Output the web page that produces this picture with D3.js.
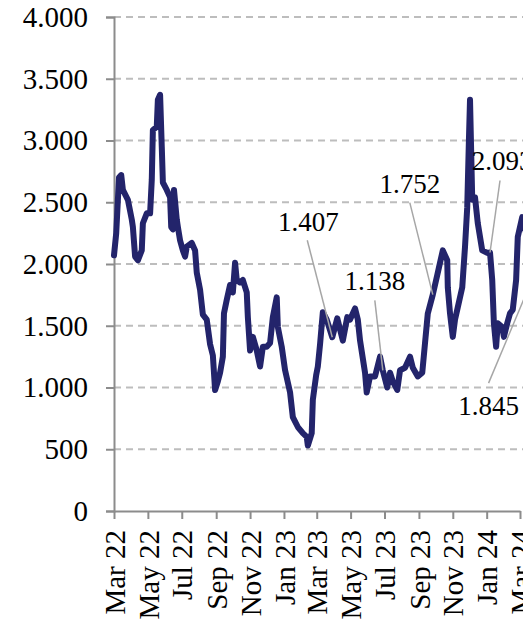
<!DOCTYPE html>
<html>
<head>
<meta charset="utf-8">
<script src="https://cdn.jsdelivr.net/npm/d3@7/dist/d3.min.js"></script>
<style>
  body { margin: 0; background: #fff; }
  svg { display: block; }
</style>
</head>
<body>
<script>
const dates = [
  '2022-03-01', '2022-03-05', '2022-03-10', '2022-03-14', '2022-03-17', '2022-03-26', '2022-04-02', '2022-04-04',
  '2022-04-08', '2022-04-13', '2022-04-20', '2022-04-22', '2022-04-29', '2022-05-05', '2022-05-08', '2022-05-10',
  '2022-05-17', '2022-05-19', '2022-05-23', '2022-05-26', '2022-05-28', '2022-06-04', '2022-06-10', '2022-06-12',
  '2022-06-15', '2022-06-17', '2022-06-22', '2022-06-24', '2022-06-28', '2022-07-03', '2022-07-07', '2022-07-10',
  '2022-07-19', '2022-07-25', '2022-07-28', '2022-08-03', '2022-08-08', '2022-08-15', '2022-08-21', '2022-08-26',
  '2022-08-30', '2022-09-04', '2022-09-08', '2022-09-13', '2022-09-15', '2022-09-20', '2022-09-26', '2022-10-01',
  '2022-10-05', '2022-10-08', '2022-10-14', '2022-10-19', '2022-10-26', '2022-10-28', '2022-11-01', '2022-11-06',
  '2022-11-13', '2022-11-19', '2022-11-24', '2022-12-01', '2022-12-07', '2022-12-12', '2022-12-19', '2022-12-21',
  '2022-12-28', '2023-01-03', '2023-01-12', '2023-01-17', '2023-01-26', '2023-02-04', '2023-02-11', '2023-02-13',
  '2023-02-20', '2023-02-22', '2023-02-28', '2023-03-03', '2023-03-07', '2023-03-12', '2023-03-19', '2023-03-29',
  '2023-04-07', '2023-04-12', '2023-04-17', '2023-04-25', '2023-04-30', '2023-05-09', '2023-05-14', '2023-05-18',
  '2023-05-27', '2023-05-30', '2023-06-05', '2023-06-14', '2023-06-23', '2023-06-28', '2023-07-06', '2023-07-11',
  '2023-07-16', '2023-07-24', '2023-07-29', '2023-08-07', '2023-08-16', '2023-08-21', '2023-08-30', '2023-09-07',
  '2023-09-12', '2023-09-17', '2023-09-26', '2023-10-04', '2023-10-09', '2023-10-14', '2023-10-22', '2023-10-23',
  '2023-10-27', '2023-11-01', '2023-11-05', '2023-11-10', '2023-11-18', '2023-11-23', '2023-11-27', '2023-11-30',
  '2023-12-02', '2023-12-06', '2023-12-11', '2023-12-16', '2023-12-24', '2024-01-02', '2024-01-07', '2024-01-11',
  '2024-01-14', '2024-01-18', '2024-01-21', '2024-01-29', '2024-02-01', '2024-02-07', '2024-02-12', '2024-02-17',
  '2024-02-23', '2024-02-26', '2024-03-05', '2024-03-12', '2024-03-20', '2024-03-26'
]
const values = [
  2070, 2250, 2700, 2720, 2600, 2520, 2360, 2300,
  2060, 2030, 2110, 2330, 2410, 2410, 2680, 3085,
  3110, 3330, 3370, 2950, 2660, 2600, 2540, 2300,
  2280, 2600, 2360, 2300, 2190, 2110, 2060, 2140,
  2170, 2110, 1930, 1790, 1590, 1550, 1350, 1260,
  980, 1050, 1120, 1250, 1600, 1710, 1830, 1770,
  2010, 1870, 1850, 1870, 1770, 1570, 1300, 1410,
  1300, 1170, 1330, 1330, 1360, 1570, 1730, 1490,
  1330, 1140, 960, 760, 680, 630, 600, 530,
  630, 900, 1100, 1170, 1350, 1610, 1550, 1407,
  1560, 1470, 1380, 1570, 1550, 1640, 1550, 1380,
  1120, 960, 1090, 1090, 1250, 1138, 1000, 1120,
  1050, 980, 1140, 1160, 1250, 1160, 1090, 1120,
  1360, 1600, 1752, 1910, 2010, 2110, 2030, 1810,
  1600, 1410, 1550, 1650, 1810, 2140, 2460, 3000,
  3330, 2520, 2540, 2330, 2110, 2090, 2093, 1870,
  1520, 1330, 1520, 1490, 1410, 1520, 1600, 1630,
  1870, 2220, 2380, 2250, 1845, 1900
]

const yTicks = [0, 500, 1000, 1500, 2000, 2500, 3000, 3500, 4000]

const annoDates = ['2023-03-29', '2023-06-28', '2023-09-26', '2024-01-07', '2024-03-20']
const annoValues = [1407, 1138, 1752, 2093, 1845]

const width = 523
const height = 619
const mLeft = 114
const mTop = 17
const mBottom = 511

const parse = d3.timeParse('%Y-%m-%d')
const data = dates.map((d, i) => ({ date: parse(d), value: values[i] }))

const locale = d3.formatLocale({ decimal: ',', thousands: '.', grouping: [3], currency: ['', ''] })
const fmt = locale.format(',')
const monthNames = ['Jan', 'Feb', 'Mar', 'Apr', 'May', 'Jun', 'Jul', 'Aug', 'Sep', 'Oct', 'Nov', 'Dec']

const x = d3.scaleTime()
  .domain([parse('2022-03-01'), parse('2024-03-01')])
  .range([mLeft, 520])

const y = d3.scaleLinear()
  .domain([0, 4000])
  .range([mBottom, mTop])

const svg = d3.select('body').append('svg')
  .attr('width', width)
  .attr('height', height)
  .style('font-family', '"Liberation Serif", "Times New Roman", serif')

// grid
svg.append('g')
  .selectAll('line')
  .data(yTicks.filter(d => d > 0))
  .enter()
  .append('line')
  .attr('x1', mLeft)
  .attr('x2', width)
  .attr('y1', d => y(d))
  .attr('y2', d => y(d))
  .attr('stroke', '#bdbdbd')
  .attr('stroke-width', 2)
  .attr('stroke-dasharray', '7,5')

// y axis
const yAxis = svg.append('g')
  .attr('transform', `translate(${mLeft},0)`)
  .call(d3.axisLeft(y).tickValues(yTicks).tickFormat(fmt).tickSize(8).tickPadding(18))
yAxis.select('.domain').attr('stroke', '#8c8c8c').attr('stroke-width', 2)
yAxis.selectAll('.tick line').attr('stroke', '#8c8c8c').attr('stroke-width', 2)
yAxis.selectAll('.tick text')
  .attr('font-family', '"Liberation Serif", serif')
  .attr('font-size', 29)
  .attr('fill', '#000')

// x axis
const xAxis = svg.append('g')
  .attr('transform', `translate(0,${mBottom})`)
  .call(d3.axisBottom(x)
    .ticks(d3.timeMonth.every(2))
    .tickFormat(d => monthNames[d.getMonth()] + ' ' + String(d.getFullYear()).slice(2))
    .tickSize(8)
    .tickSizeOuter(0))
xAxis.select('.domain').attr('stroke', '#8c8c8c').attr('stroke-width', 2)
xAxis.selectAll('.tick line').attr('stroke', '#8c8c8c').attr('stroke-width', 2)
xAxis.selectAll('.tick text')
  .attr('font-family', '"Liberation Serif", serif')
  .attr('font-size', 29)
  .attr('fill', '#000')
  .attr('text-anchor', 'end')
  .attr('transform', 'rotate(-90)')
  .attr('x', -19)
  .attr('y', 0)
  .attr('dy', '0.35em')

// series
const line = d3.line()
  .x(d => x(d.date))
  .y(d => y(d.value))

svg.append('path')
  .datum(data)
  .attr('d', line)
  .attr('fill', 'none')
  .attr('stroke', '#23246b')
  .attr('stroke-width', 6)
  .attr('stroke-linejoin', 'round')
  .attr('stroke-linecap', 'round')

// annotations: text offset and leader start relative to the point
const annoLayout = [
  { tx: -24, ty: -116, lx: -25, ly: -97 },
  { tx: -8, ty: -90, lx: -8, ly: -70 },
  { tx: -23, ty: -111, lx: -23, ly: -92 },
  { tx: 12, ty: -92, lx: 10, ly: -72 },
  { tx: -42, ty: 122, lx: -42, ly: 100 }
]

const annos = annoDates.map((d, i) => ({
  px: x(parse(d)),
  py: y(annoValues[i]),
  label: fmt(annoValues[i]),
  o: annoLayout[i]
}))

const ag = svg.append('g')
ag.selectAll('line')
  .data(annos)
  .enter()
  .append('line')
  .attr('x1', d => d.px + d.o.lx)
  .attr('y1', d => d.py + d.o.ly)
  .attr('x2', d => d.px)
  .attr('y2', d => d.py)
  .attr('stroke', '#a6a6a6')
  .attr('stroke-width', 1.5)

ag.selectAll('text')
  .data(annos)
  .enter()
  .append('text')
  .attr('x', d => d.px + d.o.tx)
  .attr('y', d => d.py + d.o.ty)
  .attr('dy', '0.35em')
  .attr('text-anchor', 'middle')
  .attr('font-size', 27)
  .attr('fill', '#000')
  .text(d => d.label)
</script>
</body>
</html>
